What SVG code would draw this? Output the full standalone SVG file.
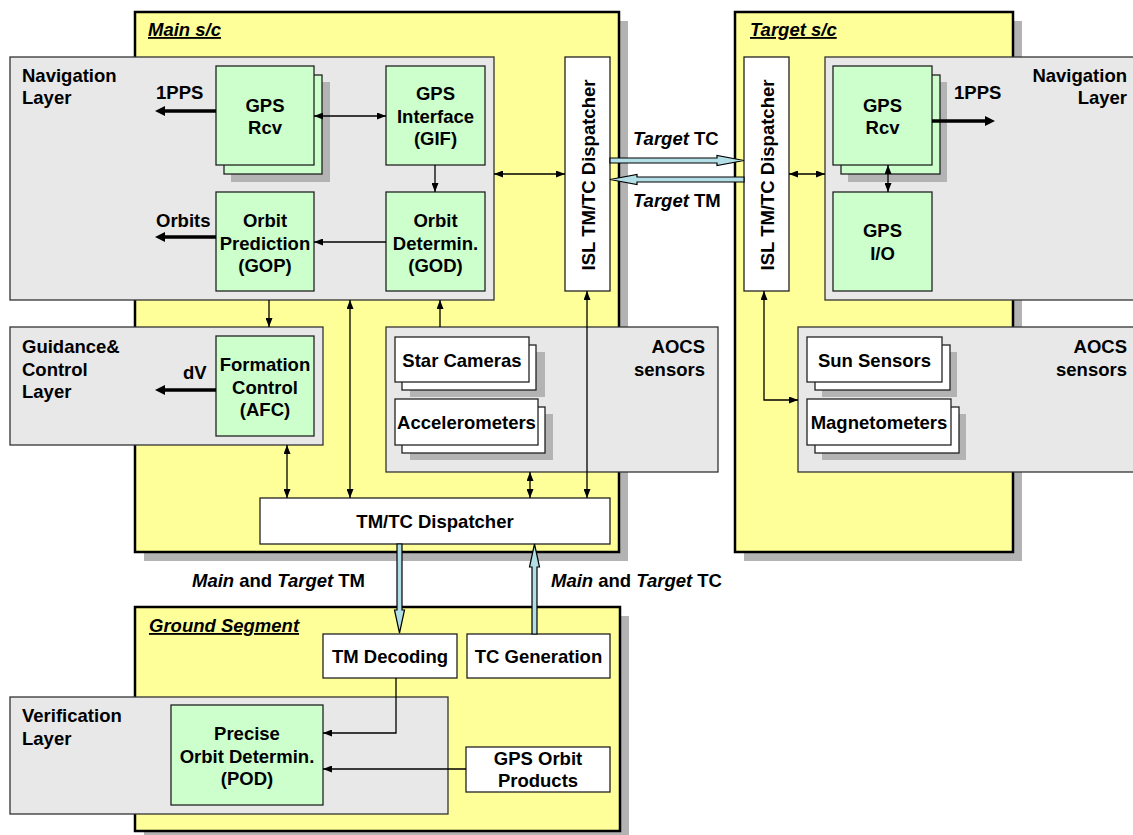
<svg xmlns="http://www.w3.org/2000/svg" width="1133" height="835" viewBox="0 0 1133 835">
<style>
  text { font-family: "Liberation Sans", Arial, sans-serif; font-weight: bold; font-size: 18.5px; fill: #000; }
  .mid { text-anchor: middle; }
  .end { text-anchor: end; }
  .it { font-style: italic; }
  .title { font-style: italic; text-decoration: underline; }
  .shadow { fill: #b3b3b3; stroke: none; }
  .sc { fill: #ffff99; stroke: #000; stroke-width: 2.5; }
  .layer { fill: #e8e8e8; stroke: #333; stroke-width: 1.3; }
  .green { fill: #ccffcc; stroke: #222; stroke-width: 1.3; }
  .white { fill: #fff; stroke: #222; stroke-width: 1.3; }
  .thin { fill: none; stroke: #000; stroke-width: 1.3; }
  .thick { fill: none; stroke: #000; stroke-width: 3.5; }
  .fat { fill: #b2dfe6; stroke: #000; stroke-width: 1.2; stroke-linejoin: miter; }
</style>
<defs>
  <marker id="ah" viewBox="0 0 10 10" refX="10" refY="5" markerWidth="9" markerHeight="7" markerUnits="userSpaceOnUse" orient="auto-start-reverse" preserveAspectRatio="none">
    <path d="M0,0 L10,5 L0,10 z" fill="#000"/>
  </marker>
  <marker id="ahb" viewBox="0 0 10 10" refX="4" refY="5" markerWidth="10" markerHeight="10" markerUnits="userSpaceOnUse" orient="auto" preserveAspectRatio="none">
    <path d="M0,0 L10,5 L0,10 z" fill="#000"/>
  </marker>
</defs>

<!-- spacecraft and ground containers -->
<g id="main-sc">
  <rect class="shadow" x="144" y="21" width="484" height="540"/>
  <rect class="sc" x="135" y="12" width="484" height="540"/>
  <text class="title" x="148" y="36">Main s/c</text>
</g>
<g id="target-sc">
  <rect class="shadow" x="744" y="21" width="278" height="540"/>
  <rect class="sc" x="735" y="12" width="278" height="540"/>
  <text class="title" x="750" y="36">Target s/c</text>
</g>
<g id="ground-segment">
  <rect class="shadow" x="144" y="616" width="485" height="225"/>
  <rect class="sc" x="135" y="607" width="485" height="224"/>
  <text class="title" x="149" y="632">Ground Segment</text>
</g>

<!-- layers -->
<g id="main-navigation-layer">
  <rect class="layer" x="10" y="57" width="484" height="243"/>
  <text x="22" y="82">Navigation</text>
  <text x="22" y="104">Layer</text>
</g>
<g id="guidance-control-layer">
  <rect class="layer" x="10" y="327" width="313" height="118"/>
  <text x="22" y="353">Guidance&amp;</text>
  <text x="22" y="376">Control</text>
  <text x="22" y="398">Layer</text>
</g>
<g id="main-aocs-sensors">
  <rect class="layer" x="386" y="327" width="332" height="145"/>
  <text class="end" x="705" y="353">AOCS</text>
  <text class="end" x="705" y="376">sensors</text>
</g>
<g id="target-navigation-layer">
  <rect class="layer" x="825" y="57" width="320" height="243"/>
  <text class="end" x="1127" y="82">Navigation</text>
  <text class="end" x="1127" y="104">Layer</text>
</g>
<g id="target-aocs-sensors">
  <rect class="layer" x="798" y="327" width="347" height="145"/>
  <text class="end" x="1127" y="353">AOCS</text>
  <text class="end" x="1127" y="376">sensors</text>
</g>
<g id="verification-layer">
  <rect class="layer" x="10" y="697" width="438" height="117"/>
  <text x="22" y="722">Verification</text>
  <text x="22" y="745">Layer</text>
</g>

<!-- main s/c nodes -->
<g id="main-gps-rcv">
  <rect class="shadow" x="231" y="82" width="99" height="100"/>
  <rect class="green" x="224" y="75" width="98" height="99"/>
  <rect class="green" x="216" y="66" width="98" height="99"/>
  <text class="mid" x="265" y="112">GPS</text>
  <text class="mid" x="265" y="134">Rcv</text>
</g>
<g id="gps-interface">
  <rect class="green" x="386" y="66" width="99" height="99"/>
  <text class="mid" x="435.5" y="100">GPS</text>
  <text class="mid" x="435.5" y="123">Interface</text>
  <text class="mid" x="435.5" y="145">(GIF)</text>
</g>
<g id="orbit-determination">
  <rect class="green" x="386" y="192" width="99" height="99"/>
  <text class="mid" x="435.5" y="227">Orbit</text>
  <text class="mid" x="435.5" y="250">Determin.</text>
  <text class="mid" x="435.5" y="272">(GOD)</text>
</g>
<g id="orbit-prediction">
  <rect class="green" x="216" y="192" width="98" height="99"/>
  <text class="mid" x="265" y="227">Orbit</text>
  <text class="mid" x="265" y="250">Prediction</text>
  <text class="mid" x="265" y="272">(GOP)</text>
</g>
<g id="formation-control">
  <rect class="green" x="216" y="336" width="98" height="100"/>
  <text class="mid" x="265" y="371">Formation</text>
  <text class="mid" x="265" y="394">Control</text>
  <text class="mid" x="265" y="416">(AFC)</text>
</g>
<g id="main-isl-dispatcher">
  <rect class="white" x="565" y="57" width="45" height="234"/>
  <text class="mid" transform="translate(594.5,175) rotate(-90)">ISL TM/TC Dispatcher</text>
</g>
<g id="star-cameras">
  <rect class="shadow" x="410" y="352" width="135" height="45"/>
  <rect class="white" x="402" y="345" width="134" height="45"/>
  <rect class="white" x="395" y="337" width="134" height="45"/>
  <text class="mid" x="462" y="367">Star Cameras</text>
</g>
<g id="accelerometers">
  <rect class="shadow" x="410" y="414" width="143" height="46"/>
  <rect class="white" x="402" y="407" width="143" height="46"/>
  <rect class="white" x="395" y="399" width="143" height="46"/>
  <text class="mid" x="466.5" y="429">Accelerometers</text>
</g>
<g id="tmtc-dispatcher">
  <rect class="white" x="260" y="498" width="350" height="46"/>
  <text class="mid" x="435" y="528">TM/TC Dispatcher</text>
</g>

<!-- target s/c nodes -->
<g id="target-isl-dispatcher">
  <rect class="white" x="744" y="57" width="45" height="234"/>
  <text class="mid" transform="translate(773.5,175) rotate(-90)">ISL TM/TC Dispatcher</text>
</g>
<g id="target-gps-rcv">
  <rect class="shadow" x="848" y="82" width="99" height="100"/>
  <rect class="green" x="841" y="75" width="99" height="99"/>
  <rect class="green" x="833" y="66" width="99" height="99"/>
  <text class="mid" x="882.5" y="112">GPS</text>
  <text class="mid" x="882.5" y="134">Rcv</text>
</g>
<g id="gps-io">
  <rect class="green" x="833" y="192" width="99" height="99"/>
  <text class="mid" x="882.5" y="237">GPS</text>
  <text class="mid" x="882.5" y="260">I/O</text>
</g>
<g id="sun-sensors">
  <rect class="shadow" x="822" y="352" width="135" height="45"/>
  <rect class="white" x="815" y="345" width="135" height="45"/>
  <rect class="white" x="807" y="337" width="135" height="45"/>
  <text class="mid" x="874.5" y="367">Sun Sensors</text>
</g>
<g id="magnetometers">
  <rect class="shadow" x="822" y="414" width="144" height="46"/>
  <rect class="white" x="815" y="407" width="144" height="46"/>
  <rect class="white" x="807" y="399" width="144" height="46"/>
  <text class="mid" x="879" y="429">Magnetometers</text>
</g>

<!-- ground segment nodes -->
<g id="tm-decoding">
  <rect class="white" x="323" y="634" width="134" height="44"/>
  <text class="mid" x="390" y="663">TM Decoding</text>
</g>
<g id="tc-generation">
  <rect class="white" x="467" y="634" width="143" height="44"/>
  <text class="mid" x="538.5" y="663">TC Generation</text>
</g>
<g id="precise-orbit-determination">
  <rect class="green" x="171" y="705" width="152" height="100"/>
  <text class="mid" x="247" y="740">Precise</text>
  <text class="mid" x="247" y="763">Orbit Determin.</text>
  <text class="mid" x="247" y="785">(POD)</text>
</g>
<g id="gps-orbit-products">
  <rect class="white" x="466" y="747" width="144" height="45"/>
  <text class="mid" x="538" y="765">GPS Orbit</text>
  <text class="mid" x="538" y="787">Products</text>
</g>

<!-- connectors -->
<g id="connectors">
  <!-- thin signal lines -->
  <line class="thin" x1="314" y1="116" x2="386" y2="116" marker-start="url(#ah)" marker-end="url(#ah)"/>
  <line class="thin" x1="435" y1="165" x2="435" y2="192" marker-end="url(#ah)"/>
  <line class="thin" x1="386" y1="242" x2="314" y2="242" marker-end="url(#ah)"/>
  <line class="thin" x1="494" y1="174" x2="565" y2="174" marker-start="url(#ah)" marker-end="url(#ah)"/>
  <line class="thin" x1="269" y1="300" x2="269" y2="327" marker-end="url(#ah)"/>
  <line class="thin" x1="440" y1="327" x2="440" y2="300" marker-end="url(#ah)"/>
  <line class="thin" x1="287" y1="445" x2="287" y2="498" marker-start="url(#ah)" marker-end="url(#ah)"/>
  <line class="thin" x1="350" y1="300" x2="350" y2="498" marker-start="url(#ah)" marker-end="url(#ah)"/>
  <line class="thin" x1="530" y1="472" x2="530" y2="498" marker-start="url(#ah)" marker-end="url(#ah)"/>
  <line class="thin" x1="587" y1="291" x2="587" y2="498" marker-start="url(#ah)" marker-end="url(#ah)"/>
  <line class="thin" x1="789" y1="174" x2="825" y2="174" marker-start="url(#ah)" marker-end="url(#ah)"/>
  <line class="thin" x1="888" y1="165" x2="888" y2="192" marker-start="url(#ah)" marker-end="url(#ah)"/>
  <polyline class="thin" points="764,291 764,400 798,400" marker-start="url(#ah)" marker-end="url(#ah)"/>
  <polyline class="thin" points="396,678 396,733 323,733" marker-end="url(#ah)"/>
  <line class="thin" x1="466" y1="769" x2="323" y2="769" marker-end="url(#ah)"/>

  <!-- thick output arrows -->
  <line class="thick" x1="216" y1="111" x2="161" y2="111" marker-end="url(#ahb)"/>
  <line class="thick" x1="216" y1="237" x2="161" y2="237" marker-end="url(#ahb)"/>
  <line class="thick" x1="216" y1="390" x2="161" y2="390" marker-end="url(#ahb)"/>
  <line class="thick" x1="932" y1="121" x2="989" y2="121" marker-end="url(#ahb)"/>

  <!-- telemetry / telecommand links -->
  <polygon class="fat" points="610,158 717,158 717,155.5 744,160.5 717,165.5 717,163 610,163"/>
  <polygon class="fat" points="744,177 637,177 637,174.5 610,179.5 637,184.5 637,182 744,182"/>
  <polygon class="fat" points="397,544 397,610 394.5,610 399.5,633 404.5,610 402,610 402,544"/>
  <polygon class="fat" points="532,634 532,567 529.5,567 534.5,544 539.5,567 537,567 537,634"/>

  <!-- connector labels -->
  <text x="156" y="99">1PPS</text>
  <text x="156" y="227">Orbits</text>
  <text x="183" y="379">dV</text>
  <text x="954" y="99">1PPS</text>
  <text x="633" y="145"><tspan class="it">Target</tspan> TC</text>
  <text x="633" y="207"><tspan class="it">Target</tspan> TM</text>
  <text x="192" y="587"><tspan class="it">Main</tspan> and <tspan class="it">Target</tspan> TM</text>
  <text x="551" y="587"><tspan class="it">Main</tspan> and <tspan class="it">Target</tspan> TC</text>
</g>
</svg>
